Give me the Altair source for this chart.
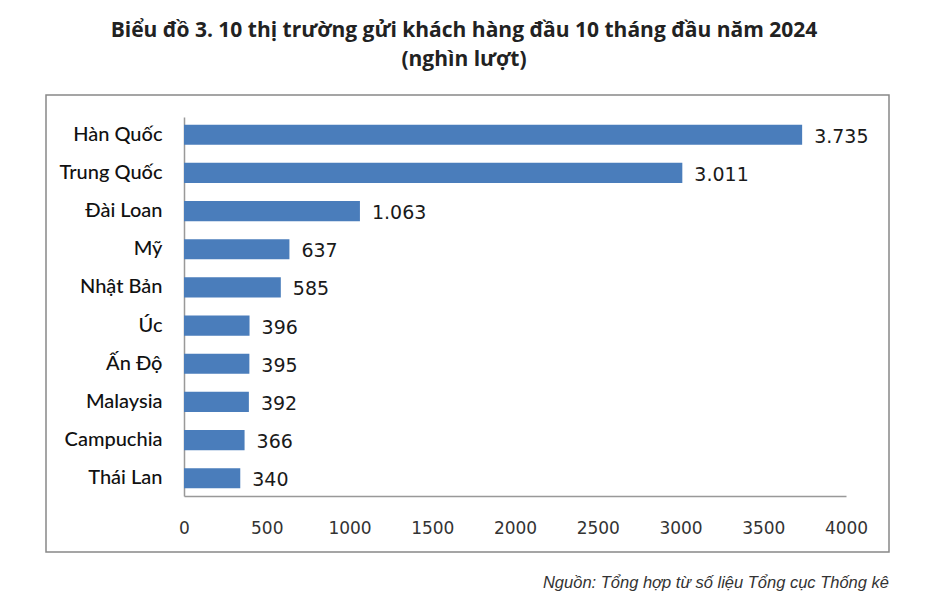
import altair as alt
import pandas as pd

countries = ["Hàn Quốc", "Trung Quốc", "Đài Loan", "Mỹ", "Nhật Bản", "Úc", "Ấn Độ", "Malaysia", "Campuchia", "Thái Lan"]
values = [3735, 3011, 1063, 637, 585, 396, 395, 392, 366, 340]
x_ticks = [0, 500, 1000, 1500, 2000, 2500, 3000, 3500, 4000]
title_lines = ["Biểu đồ 3. 10 thị trường gửi khách hàng đầu 10 tháng đầu năm 2024", "(nghìn lượt)"]
source_text = "Nguồn: Tổng hợp từ số liệu Tổng cục Thống kê"

df = pd.DataFrame({"country": countries, "value": values})

W, H = 662, 379

y_enc = alt.Y("country:N", sort=countries, title=None,
              scale=alt.Scale(paddingInner=0.47, paddingOuter=0.2),
              axis=alt.Axis(labelFont="Lato", labelFontSize=20, labelColor="#111",
                            labelFontWeight=500,
                            labelPadding=22, ticks=False, domainColor="#999",
                            domainWidth=1.5))
x_enc = alt.X("value:Q", title=None,
              scale=alt.Scale(domain=[0, 4000], nice=False),
              axis=alt.Axis(values=x_ticks, format="d", labelFont="DejaVu Sans",
                            labelFontSize=17, labelColor="#333", labelPadding=24,
                            ticks=False, grid=False, domainColor="#999",
                            domainWidth=1.5, labelFlush=False))

bars = alt.Chart(df).mark_bar(color="#4a7dbb").encode(x=x_enc, y=y_enc)

labels = alt.Chart(df).transform_calculate(
    lab="replace(format(datum.value, ','), ',', '.')"
).mark_text(align="left", baseline="middle", dx=12, dy=2, font="DejaVu Sans",
            fontSize=19, color="#1a1a1a").encode(
    x="value:Q", y=alt.Y("country:N", sort=countries), text="lab:N")

frame = alt.Chart(pd.DataFrame({"a": [0]})).mark_rect(
    fill=None, stroke="#888", strokeWidth=1.5, clip=False).encode(
    x=alt.value(-138), x2=alt.value(705), y=alt.value(-22), y2=alt.value(435))

source = alt.Chart(pd.DataFrame({"t": [source_text]})).mark_text(
    align="right", baseline="middle", font="Liberation Sans", fontStyle="italic",
    fontSize=16.5, color="#333").encode(
    x=alt.value(705), y=alt.value(466), text="t:N")

chart = alt.layer(frame, bars, labels, source).properties(
    width=W, height=H,
    title=alt.TitleParams(text=title_lines, font="Open Sans", fontSize=21, fontWeight="bold",
                          color="#222", anchor="middle", dx=-51, offset=24, lineHeight=29),
    autosize=alt.AutoSizeParams(type="none"),
    padding={"left": 176, "top": 109, "right": 80, "bottom": 105},
).configure_view(stroke=None)

chart.save("out.html", embed_options={"renderer": "svg", "actions": False})
